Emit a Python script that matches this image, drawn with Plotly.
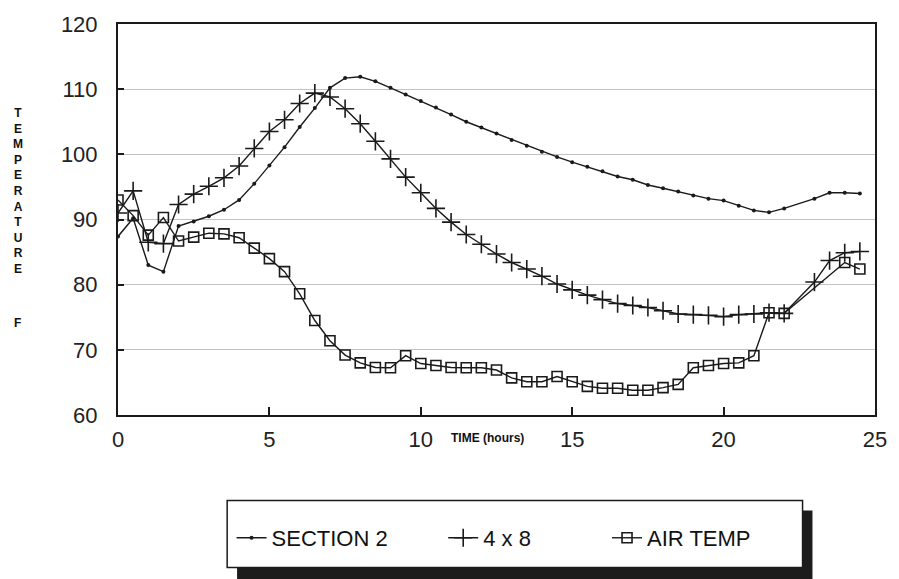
import plotly.graph_objects as go

# ---- data ----
sec2_x = [0, 0.5, 1, 1.5, 2, 2.5, 3, 3.5, 4, 4.5, 5, 5.5, 6, 6.5, 7, 7.5, 8, 8.5, 9, 9.5,
          10, 10.5, 11, 11.5, 12, 12.5, 13, 13.5, 14, 14.5, 15, 15.5, 16, 16.5, 17, 17.5,
          18, 18.5, 19, 19.5, 20, 20.5, 21, 21.5, 22, 23, 23.5, 24, 24.5]
sec2_y = [87.4, 90.2, 83.0, 82.0, 89.0, 89.7, 90.5, 91.5, 93.0, 95.5, 98.3, 101.1, 104.2,
          107.1, 110.2, 111.7, 111.9, 111.2, 110.2, 109.2, 108.2, 107.2, 106.1, 105.0,
          104.1, 103.2, 102.2, 101.3, 100.4, 99.6, 98.8, 98.1, 97.4, 96.6, 96.1, 95.3,
          94.8, 94.3, 93.7, 93.2, 92.9, 92.1, 91.4, 91.1, 91.7, 93.2, 94.1, 94.1, 94.0]

b48_x = [0, 0.5, 1, 1.5, 2, 2.5, 3, 3.5, 4, 4.5, 5, 5.5, 6, 6.5, 7, 7.5, 8, 8.5, 9, 9.5,
         10, 10.5, 11, 11.5, 12, 12.5, 13, 13.5, 14, 14.5, 15, 15.5, 16, 16.5, 17, 17.5,
         18, 18.5, 19, 19.5, 20, 20.5, 21, 21.5, 22, 23, 23.5, 24, 24.5]
b48_y = [91.0, 94.4, 86.5, 86.3, 92.3, 93.9, 95.1, 96.4, 98.2, 100.9, 103.5, 105.3, 107.8,
         109.4, 108.8, 107.0, 104.7, 102.0, 99.3, 96.5, 94.1, 91.7, 89.6, 87.7, 86.2,
         84.7, 83.4, 82.4, 81.3, 80.1, 79.2, 78.4, 77.7, 77.1, 76.8, 76.5, 76.0, 75.5,
         75.4, 75.3, 75.1, 75.4, 75.5, 75.7, 75.6, 80.4, 83.7, 84.9, 85.1]

air_x = [0, 0.5, 1, 1.5, 2, 2.5, 3, 3.5, 4, 4.5, 5, 5.5, 6, 6.5, 7, 7.5, 8, 8.5, 9, 9.5,
         10, 10.5, 11, 11.5, 12, 12.5, 13, 13.5, 14, 14.5, 15, 15.5, 16, 16.5, 17, 17.5,
         18, 18.5, 19, 19.5, 20, 20.5, 21, 21.5, 22, 24, 24.5]
air_y = [93.0, 90.6, 87.6, 90.3, 86.7, 87.3, 87.9, 87.8, 87.2, 85.6, 84.0, 82.0, 78.6,
         74.5, 71.4, 69.2, 68.0, 67.3, 67.25, 69.1, 67.9, 67.6, 67.3, 67.25, 67.25, 66.9,
         65.7, 65.1, 65.1, 65.9, 65.1, 64.4, 64.1, 64.1, 63.8, 63.8, 64.2, 64.7, 67.25,
         67.6, 67.9, 68.0, 69.1, 75.7, 75.6, 83.4, 82.4]

x_ticks = [0, 5, 10, 15, 20, 25]
y_ticks = [60, 70, 80, 90, 100, 110, 120]

INK = "#1a1a1a"
FONT = "Liberation Sans, Arial, sans-serif"

fig = go.Figure()
fig.add_trace(go.Scatter(
    x=sec2_x, y=sec2_y, mode="lines+markers", name="SECTION 2",
    line=dict(color=INK, width=1.4),
    marker=dict(symbol="circle", size=4, color=INK),
    showlegend=True, legend="legend"))
fig.add_trace(go.Scatter(
    x=b48_x, y=b48_y, mode="lines+markers", name="4 x 8",
    line=dict(color=INK, width=1.4),
    marker=dict(symbol="cross-thin", size=13, line=dict(color=INK, width=1.6)),
    showlegend=True, legend="legend2"))
fig.add_trace(go.Scatter(
    x=air_x, y=air_y, mode="lines+markers", name="AIR TEMP",
    line=dict(color=INK, width=1.4),
    marker=dict(symbol="square-open", size=10, color=INK, line=dict(color=INK, width=1.6)),
    showlegend=True, legend="legend3"))

leg_common = dict(orientation="h", yanchor="middle", y=-0.3145, xanchor="left",
                  bgcolor="rgba(0,0,0,0)", borderwidth=0,
                  font=dict(family=FONT, size=22, color="#111"))

fig.update_layout(
    width=899, height=579,
    margin=dict(l=118, r=18, t=18, b=164),
    paper_bgcolor="white", plot_bgcolor="white",
    font=dict(family=FONT, color="#222"),
    showlegend=True,
    legend=dict(x=0.150, **leg_common),
    legend2=dict(x=0.4296, **leg_common),
    legend3=dict(x=0.646, **leg_common),
    xaxis=dict(range=[0, 25], tickvals=x_ticks, ticks="inside", ticklen=8,
               tickcolor=INK, tickwidth=1.5,
               showline=True, linecolor=INK, linewidth=2, mirror=True,
               showgrid=False, zeroline=False, ticklabelstandoff=4,
               tickfont=dict(family=FONT, size=22, color="#222")),
    yaxis=dict(range=[60, 120], tickvals=y_ticks, ticks="inside", ticklen=6,
               tickcolor=INK, tickwidth=1.5,
               showline=True, linecolor=INK, linewidth=2, mirror=True,
               showgrid=True, gridcolor="#c2c2c2", gridwidth=1, zeroline=False,
               ticklabelstandoff=14,
               tickfont=dict(family=FONT, size=22, color="#222")),
    shapes=[
        dict(type="rect", xref="paper", yref="paper", x0=0.1573, x1=0.9174,
             y0=-0.425, y1=-0.244, fillcolor="#1c1c1c", line=dict(width=0), layer="below"),
        dict(type="rect", xref="paper", yref="paper", x0=0.1442, x1=0.9043,
             y0=-0.390, y1=-0.2189, fillcolor="white", line=dict(color=INK, width=1.5),
             layer="below"),
    ],
    annotations=[
        dict(text="<b>TIME (hours)</b>", xref="paper", yref="paper", x=0.4875, y=-0.058,
             showarrow=False, font=dict(family=FONT, size=12, color="#111"),
             xanchor="center", yanchor="middle"),
        dict(text="<b>" + "<br>".join(list("TEMPERATURE")) + "</b>", xref="paper", yref="paper",
             x=-0.1324, y=0.5736, showarrow=False,
             font=dict(family=FONT, size=12, color="#111"),
             xanchor="center", yanchor="middle"),
        dict(text="<b>F</b>", xref="paper", yref="paper", x=-0.1324, y=0.2365,
             showarrow=False, font=dict(family=FONT, size=12, color="#111"),
             xanchor="center", yanchor="middle"),
    ],
)

fig.write_html("out.html")
